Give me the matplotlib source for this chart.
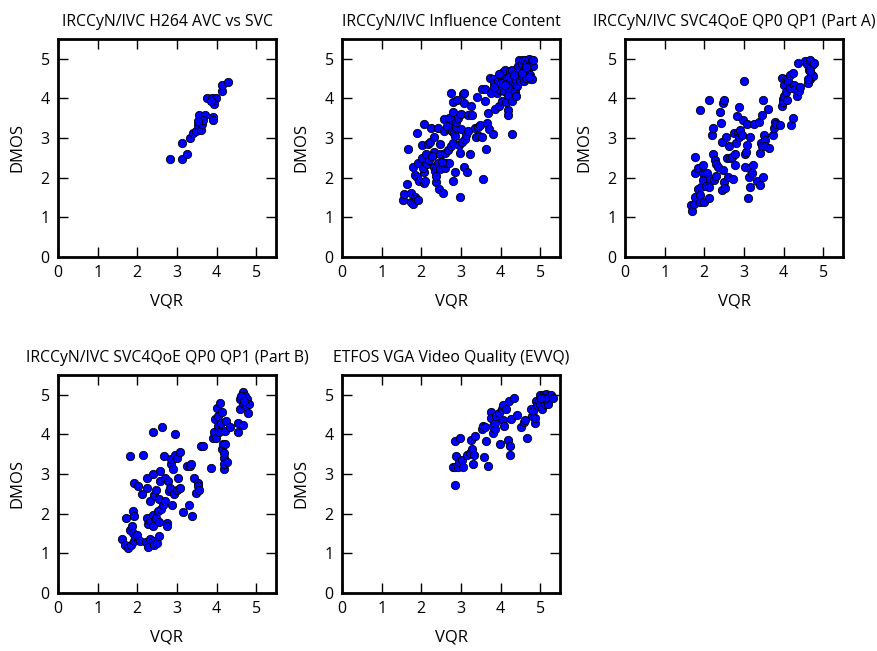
import matplotlib
matplotlib.use("Agg")
import matplotlib.pyplot as plt
import numpy as np

plt.rcParams['font.family'] = ['Open Sans', 'DejaVu Sans']

titles = ["IRCCyN/IVC H264 AVC vs SVC",
          "IRCCyN/IVC Influence Content",
          "IRCCyN/IVC SVC4QoE QP0 QP1 (Part A)",
          "IRCCyN/IVC SVC4QoE QP0 QP1 (Part B)",
          "ETFOS VGA Video Quality (EVVQ)"]

# panel 1: H264 AVC vs SVC
vqr_1 = [2.82, 3.12, 3.14, 3.26, 3.33, 3.41, 3.47, 3.52, 3.60, 3.56, 3.70, 3.64, 3.67, 3.52,
         3.90, 3.92, 3.77, 3.88, 3.98, 3.94, 3.87, 4.13, 4.15, 4.28]
dmos_1 = [2.47, 2.47, 2.87, 2.60, 3.01, 3.13, 3.19, 3.33, 3.21, 3.59, 3.59, 3.36, 3.46, 3.42,
          3.53, 3.46, 4.00, 4.00, 4.00, 3.87, 3.93, 4.20, 4.34, 4.41]

# panel 2: Influence Content
vqr_2 = [1.55, 1.57, 1.64, 1.66, 1.75, 1.75, 1.79, 1.84, 1.86, 1.92, 1.80, 1.89, 1.84, 1.89,
         1.95, 1.92, 2.01, 2.03, 2.08, 2.06, 2.10, 2.08, 2.05, 2.12, 2.14, 2.16, 2.22, 2.25,
         2.29, 2.33, 2.31, 2.33, 2.35, 2.36, 2.38, 2.42, 2.42, 2.44, 2.47, 2.48, 2.46, 2.54,
         2.57, 2.58, 2.61, 2.61, 2.63, 2.67, 2.69, 2.70, 2.71, 2.74, 2.75, 2.77, 2.79, 2.80,
         2.75, 2.80, 2.81, 2.83, 2.86, 2.88, 2.88, 2.90, 2.92, 2.94, 2.97, 2.98, 3.01, 3.01,
         3.03, 3.05, 3.07, 3.07, 3.09, 3.11, 3.14, 3.16, 3.18, 3.19, 3.22, 3.26, 3.28, 3.35,
         3.37, 3.41, 3.43, 3.45, 3.47, 3.52, 3.56, 3.53, 3.60, 3.62, 3.64, 3.67, 3.69, 3.71,
         3.73, 3.76, 3.80, 3.81, 3.83, 3.87, 3.90, 3.92, 3.94, 3.96, 3.98, 4.01, 4.03, 4.05,
         4.07, 4.08, 4.09, 4.11, 4.15, 4.15, 4.18, 4.19, 4.19, 4.19, 4.21, 4.24, 4.26, 4.28,
         4.28, 4.30, 4.31, 4.36, 4.36, 4.38, 4.41, 4.43, 4.45, 4.47, 4.49, 4.52, 4.53, 4.56,
         4.58, 4.60, 4.62, 4.64, 4.66, 4.69, 4.71, 4.72, 4.75, 4.77, 4.79, 4.81, 4.82, 4.79,
         4.72, 2.20, 2.27, 2.52, 2.65, 2.85, 3.84, 3.95, 4.00, 4.12, 4.22, 4.33, 4.55, 4.63]
dmos_2 = [1.45, 1.60, 1.83, 2.72, 1.62, 1.39, 1.33, 1.52, 1.47, 1.45, 2.28, 3.14, 2.08, 2.03,
          1.93, 2.38, 2.50, 2.83, 3.35, 1.87, 1.93, 2.15, 2.24, 2.59, 2.34, 2.84, 2.91, 3.25,
          2.58, 3.02, 2.65, 2.28, 2.17, 1.90, 2.05, 2.36, 3.25, 1.71, 2.85, 2.60, 2.22, 1.62,
          3.49, 3.17, 2.62, 2.25, 2.38, 2.69, 3.23, 2.38, 3.51, 4.14, 3.34, 3.17, 3.65, 3.90,
          2.79, 2.87, 1.93, 3.14, 2.14, 3.29, 3.40, 3.97, 3.51, 2.82, 2.62, 1.52, 3.61, 3.23,
          2.90, 4.11, 3.89, 2.28, 4.14, 2.97, 3.08, 2.14, 3.59, 3.17, 2.60, 3.82, 3.59, 3.25,
          3.04, 4.03, 3.29, 3.06, 3.34, 4.24, 1.98, 3.04, 3.93, 4.24, 2.72, 3.38, 3.63, 3.23,
          4.51, 4.14, 4.48, 3.11, 4.38, 3.73, 4.14, 4.29, 4.43, 3.80, 4.22, 4.58, 3.93, 4.36,
          4.66, 4.54, 4.19, 4.73, 4.48, 3.91, 4.08, 4.29, 3.72, 3.59, 4.39, 4.69, 4.51, 4.73,
          3.11, 3.93, 4.43, 4.19, 4.48, 4.05, 4.32, 4.81, 4.69, 4.98, 4.43, 4.60, 4.86, 4.98,
          4.43, 4.73, 4.98, 4.52, 4.90, 4.69, 5.00, 4.81, 4.60, 4.48, 4.98, 4.81, 4.98, 4.49,
          4.54, 2.45, 2.55, 2.40, 3.30, 3.05, 4.30, 4.62, 4.40, 4.35, 4.55, 4.60, 4.65, 4.80]

# panel 3: SVC4QoE Part A
vqr_3 = [1.66, 1.70, 1.73, 1.77, 1.77, 1.77, 1.83, 1.83, 1.88, 1.90, 1.90, 1.92, 1.97, 1.97,
         1.98, 2.00, 2.02, 2.04, 2.07, 2.11, 2.12, 2.13, 2.15, 2.19, 2.22, 2.23, 2.25, 2.28,
         2.29, 2.30, 2.34, 2.40, 2.42, 2.44, 2.45, 2.46, 2.47, 2.49, 2.51, 2.53, 2.55, 2.57,
         2.59, 2.63, 2.66, 2.70, 2.72, 2.76, 2.77, 2.78, 2.81, 2.82, 2.84, 2.87, 2.88, 2.91,
         2.95, 2.98, 3.01, 3.03, 3.04, 3.06, 3.08, 3.09, 3.10, 3.13, 3.14, 3.16, 3.16, 3.20,
         3.23, 3.26, 3.33, 3.37, 3.40, 3.41, 3.43, 3.46, 3.46, 3.47, 3.48, 3.50, 3.52, 3.54,
         3.61, 3.63, 3.74, 3.75, 3.78, 3.82, 3.90, 3.95, 3.96, 3.98, 3.99, 4.01, 4.02, 4.05,
         4.07, 4.09, 4.11, 4.16, 4.17, 4.20, 4.23, 4.24, 4.26, 4.30, 4.33, 4.36, 4.38, 4.41,
         4.55, 4.60, 4.62, 4.64, 4.66, 4.68, 4.70, 4.72, 4.74, 4.75, 4.76, 4.68, 4.62]
dmos_3 = [1.31, 1.16, 1.33, 1.52, 2.53, 2.11, 1.71, 2.24, 1.39, 3.72, 1.56, 1.77, 2.11, 2.32,
          1.94, 1.39, 2.11, 1.79, 2.11, 1.48, 3.97, 1.77, 1.98, 3.08, 3.25, 2.59, 1.94, 2.45,
          2.35, 2.04, 2.28, 3.67, 3.38, 1.69, 2.91, 3.89, 2.20, 1.90, 3.97, 1.73, 3.04, 2.49,
          2.03, 2.79, 2.49, 2.53, 1.97, 3.13, 2.31, 2.60, 2.87, 3.55, 3.13, 3.04, 3.78, 3.21,
          3.08, 3.46, 4.45, 2.28, 2.60, 2.66, 3.36, 2.82, 1.48, 2.24, 2.03, 3.04, 1.76, 2.11,
          2.32, 3.36, 1.92, 3.40, 1.82, 2.62, 2.87, 3.59, 2.79, 2.03, 3.97, 3.08, 2.96, 2.81,
          3.73, 2.74, 3.08, 3.25, 3.40, 3.36, 3.34, 4.52, 3.82, 3.99, 3.90, 4.05, 4.35, 4.48,
          4.16, 3.97, 4.43, 4.27, 4.60, 3.32, 3.50, 4.65, 4.35, 4.24, 4.07, 4.90, 4.18, 4.29,
          4.94, 4.86, 4.39, 4.73, 4.98, 4.48, 4.81, 4.60, 4.88, 4.56, 4.90, 4.69, 4.49]

# panel 4: SVC4QoE Part B
vqr_4 = [1.61, 1.69, 1.72, 1.76, 1.81, 1.82, 1.85, 1.86, 1.88, 1.89, 1.91, 1.91, 1.91, 1.95,
         2.00, 2.03, 2.08, 2.12, 2.14, 2.22, 2.25, 2.25, 2.25, 2.26, 2.27, 2.31, 2.31, 2.33,
         2.39, 2.39, 2.40, 2.40, 2.40, 2.42, 2.43, 2.46, 2.47, 2.50, 2.52, 2.54, 2.54, 2.56,
         2.57, 2.58, 2.60, 2.63, 2.65, 2.67, 2.69, 2.71, 2.74, 2.75, 2.77, 2.80, 2.82, 2.84,
         2.86, 2.88, 2.91, 2.92, 2.94, 2.95, 2.99, 3.01, 3.03, 3.07, 3.09, 3.15, 3.26, 3.31,
         3.33, 3.36, 3.39, 3.43, 3.47, 3.52, 3.53, 3.56, 3.60, 3.67, 3.86, 3.90, 3.94, 3.96,
         3.98, 4.00, 4.03, 4.04, 4.07, 4.09, 4.11, 4.13, 4.15, 4.17, 4.18, 4.18, 4.19, 4.19,
         4.21, 4.22, 4.24, 4.26, 4.35, 4.55, 4.55, 4.58, 4.58, 4.66, 4.68, 4.68, 4.72, 4.75,
         4.77, 4.79, 4.83, 4.62, 4.70]
dmos_4 = [1.35, 1.20, 1.90, 1.14, 3.46, 1.60, 1.20, 1.69, 1.52, 2.07, 2.78, 1.94, 1.32, 1.43,
          1.46, 2.70, 1.32, 2.50, 3.48, 1.29, 1.90, 2.65, 2.91, 1.73, 1.16, 1.81, 2.32, 1.35,
          2.99, 4.07, 1.98, 1.69, 1.31, 2.46, 1.20, 2.59, 1.90, 1.26, 2.07, 1.79, 2.38, 1.43,
          3.07, 2.82, 2.12, 4.20, 2.21, 3.46, 2.32, 2.91, 1.77, 1.69, 2.82, 2.57, 2.66, 3.25,
          3.37, 2.23, 3.12, 2.49, 4.02, 3.47, 3.41, 2.61, 2.91, 3.56, 2.66, 2.04, 3.20, 2.23,
          3.20, 3.26, 1.94, 2.91, 2.53, 2.78, 2.70, 2.61, 3.71, 3.71, 3.16, 3.90, 4.06, 4.38,
          3.90, 4.68, 4.22, 4.47, 4.05, 4.79, 4.30, 4.57, 3.63, 3.75, 3.12, 3.41, 3.25, 3.54,
          3.75, 4.09, 4.34, 3.31, 4.20, 4.30, 4.05, 4.64, 4.89, 4.79, 4.23, 5.08, 4.97, 4.72,
          4.89, 4.55, 4.76, 4.97, 4.85]

# panel 5: ETFOS EVVQ
vqr_5 = [2.84, 2.80, 2.86, 2.88, 2.86, 2.92, 2.95, 2.98, 3.03, 3.05, 3.16, 3.22, 3.25, 3.29,
         3.30, 3.33, 3.35, 3.52, 3.56, 3.59, 3.62, 3.64, 3.69, 3.75, 3.77, 3.80, 3.81, 3.86,
         3.87, 3.88, 3.95, 3.98, 4.03, 4.05, 4.07, 4.08, 4.13, 4.19, 4.21, 4.24, 4.24, 4.26,
         4.35, 4.41, 4.52, 4.58, 4.62, 4.66, 4.76, 4.79, 4.83, 4.86, 4.87, 4.89, 4.93, 4.96,
         5.00, 5.00, 5.04, 5.06, 5.08, 5.11, 5.14, 5.17, 5.19, 5.23, 5.28, 5.32, 5.13, 5.03]
dmos_5 = [2.73, 3.17, 3.17, 3.45, 3.83, 3.17, 3.30, 3.90, 3.36, 3.17, 3.47, 3.53, 3.87, 3.64,
          3.26, 3.47, 3.97, 4.13, 4.21, 3.42, 4.19, 3.83, 3.21, 4.57, 4.42, 4.04, 4.21, 4.14,
          4.28, 4.47, 4.55, 3.75, 4.65, 4.74, 4.36, 4.21, 4.63, 3.87, 4.85, 3.70, 3.49, 4.38,
          4.93, 4.50, 4.19, 4.31, 4.36, 3.92, 4.65, 4.47, 4.59, 4.30, 4.42, 4.85, 4.74, 4.85,
          4.99, 4.76, 4.65, 4.87, 4.99, 4.76, 5.02, 4.87, 4.76, 4.97, 4.99, 4.93, 4.93, 4.93]

vqr_all = [vqr_1, vqr_2, vqr_3, vqr_4, vqr_5]
dmos_all = [dmos_1, dmos_2, dmos_3, dmos_4, dmos_5]

fig = plt.figure(figsize=(8.77, 6.51), dpi=100)

# axes boxes in pixels (left, top, width, height)
boxes = [(58, 39, 218, 218), (342, 39, 218, 218), (625, 39, 218, 218),
         (58, 375, 218, 218), (342, 375, 218, 218)]

for i in range(5):
    l, t, w, h = boxes[i]
    ax = fig.add_axes([l / 877, 1 - (t + h) / 651, w / 877, h / 651])
    ax.scatter(vqr_all[i], dmos_all[i], s=36, c='#0000ff', edgecolors='black',
               linewidths=0.6, zorder=3, clip_on=False)
    ax.set_xlim(0, 5.5)
    ax.set_ylim(0, 5.5)
    ax.set_xticks([0, 1, 2, 3, 4, 5])
    ax.set_yticks([0, 1, 2, 3, 4, 5])
    ax.tick_params(direction='in', top=True, right=True, length=7, width=1,
                   labelsize=11.5, pad=6)
    for sp in ax.spines.values():
        sp.set_linewidth(2)
    ax.set_xlabel("VQR", fontsize=12, labelpad=9)
    ax.set_ylabel("DMOS", fontsize=12, labelpad=11)
    ax.set_title(titles[i], fontsize=11.3, pad=9)

fig.savefig("out.png", dpi=100)
